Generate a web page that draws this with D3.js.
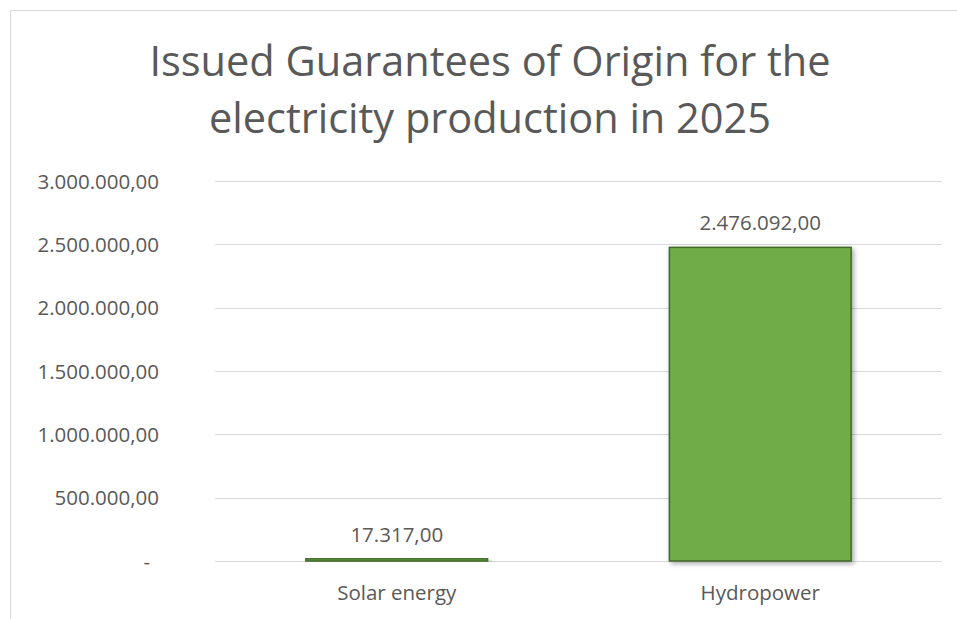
<!DOCTYPE html>
<html>
<head>
<meta charset="utf-8">
<script src="https://cdn.jsdelivr.net/npm/d3@7"></script>
<style>
  html, body { margin: 0; padding: 0; background: #fff; }
  svg { display: block; }
  text { font-family: "Open Sans", "Noto Sans", sans-serif; fill: #595959; }
</style>
</head>
<body>
<svg id="chart" width="957" height="619"></svg>
<script>
const titleLines = ["Issued Guarantees of Origin for the", "electricity production in 2025"];
const categories = ["Solar energy", "Hydropower"];
const values = [17317, 2476092];
const yTicks = [0, 500000, 1000000, 1500000, 2000000, 2500000, 3000000];
const yMax = 3000000;

const svg = d3.select("#chart");
const labelSize = 20.5;

// chart frame (cut off by viewport at right & bottom)
svg.append("rect")
  .attr("x", 10.5).attr("y", 10.5)
  .attr("width", 980).attr("height", 640)
  .attr("fill", "#fff").attr("stroke", "#d9d9d9").attr("stroke-width", 1);

const plot = { left: 215, right: 942, top: 181, bottom: 561 };

const x = d3.scaleBand()
  .domain(categories)
  .range([plot.left, plot.right])
  .paddingInner(0.5)
  .paddingOuter(0.25);

const y = d3.scaleLinear().domain([0, yMax]).range([plot.bottom, plot.top]);

// number formatting: 3.000.000,00 (European)
const loc = d3.formatLocale({ decimal: ",", thousands: ".", grouping: [3], currency: ["", ""] });
const fmt = loc.format(",.2f");
const tickFmt = v => v === 0 ? "-" : fmt(v);

// gridlines
svg.append("g").selectAll("line")
  .data(yTicks)
  .join("line")
  .attr("x1", plot.left).attr("x2", plot.right)
  .attr("y1", d => Math.round(y(d)) + 0.5).attr("y2", d => Math.round(y(d)) + 0.5)
  .attr("stroke", "#d9d9d9").attr("stroke-width", 1);

// y axis labels
const yAxis = d3.axisLeft(y).tickValues(yTicks).tickFormat(tickFmt).tickSize(0).tickPadding(0);
const gy = svg.append("g").attr("transform", `translate(${159},0)`).call(yAxis);
gy.select(".domain").remove();
gy.selectAll("text")
  .attr("font-family", "'Open Sans', sans-serif")
  .attr("font-size", labelSize)
  .attr("fill", "#595959")
  .attr("dy", "0.35em")
  .attr("x", d => d === 0 ? -9 : 0);

// shadow filter
const defs = svg.append("defs");
const f = defs.append("filter").attr("id", "shadow").attr("x", "-10%").attr("y", "-10%").attr("width", "130%").attr("height", "130%");
f.append("feGaussianBlur").attr("in", "SourceAlpha").attr("stdDeviation", 2.5);
f.append("feOffset").attr("dx", 2).attr("dy", 2).attr("result", "ob");
f.append("feComponentTransfer").append("feFuncA").attr("type", "linear").attr("slope", 0.35);
const m = f.append("feMerge");
m.append("feMergeNode");
m.append("feMergeNode").attr("in", "SourceGraphic");

// bars
svg.append("g").selectAll("rect")
  .data(categories.map((c, i) => ({ c, v: values[i] })))
  .join("rect")
  .attr("x", d => x(d.c))
  .attr("y", d => y(d.v))
  .attr("width", x.bandwidth())
  .attr("height", d => y(0) - y(d.v))
  .attr("fill", "#70ad47")
  .attr("stroke", "#3f6a26")
  .attr("stroke-width", 1.5)
  .attr("filter", "url(#shadow)");

// data labels
svg.append("g").selectAll("text")
  .data(categories.map((c, i) => ({ c, v: values[i] })))
  .join("text")
  .attr("x", d => x(d.c) + x.bandwidth() / 2)
  .attr("y", d => y(d.v) - 17)
  .attr("text-anchor", "middle")
  .attr("font-size", labelSize)
  .text(d => fmt(d.v));

// x axis labels
const xAxis = d3.axisBottom(x).tickSize(0).tickPadding(0);
const gx = svg.append("g").attr("transform", `translate(0,${plot.bottom})`).call(xAxis);
gx.select(".domain").remove();
gx.selectAll("text")
  .attr("font-family", "'Open Sans', sans-serif")
  .attr("font-size", labelSize)
  .attr("fill", "#595959")
  .attr("dy", "0")
  .attr("y", 39);

// title
svg.append("g").selectAll("text")
  .data(titleLines)
  .join("text")
  .attr("x", 490)
  .attr("y", (d, i) => 76 + i * 57)
  .attr("text-anchor", "middle")
  .attr("font-size", 41.5)
  .text(d => d);
</script>
</body>
</html>
